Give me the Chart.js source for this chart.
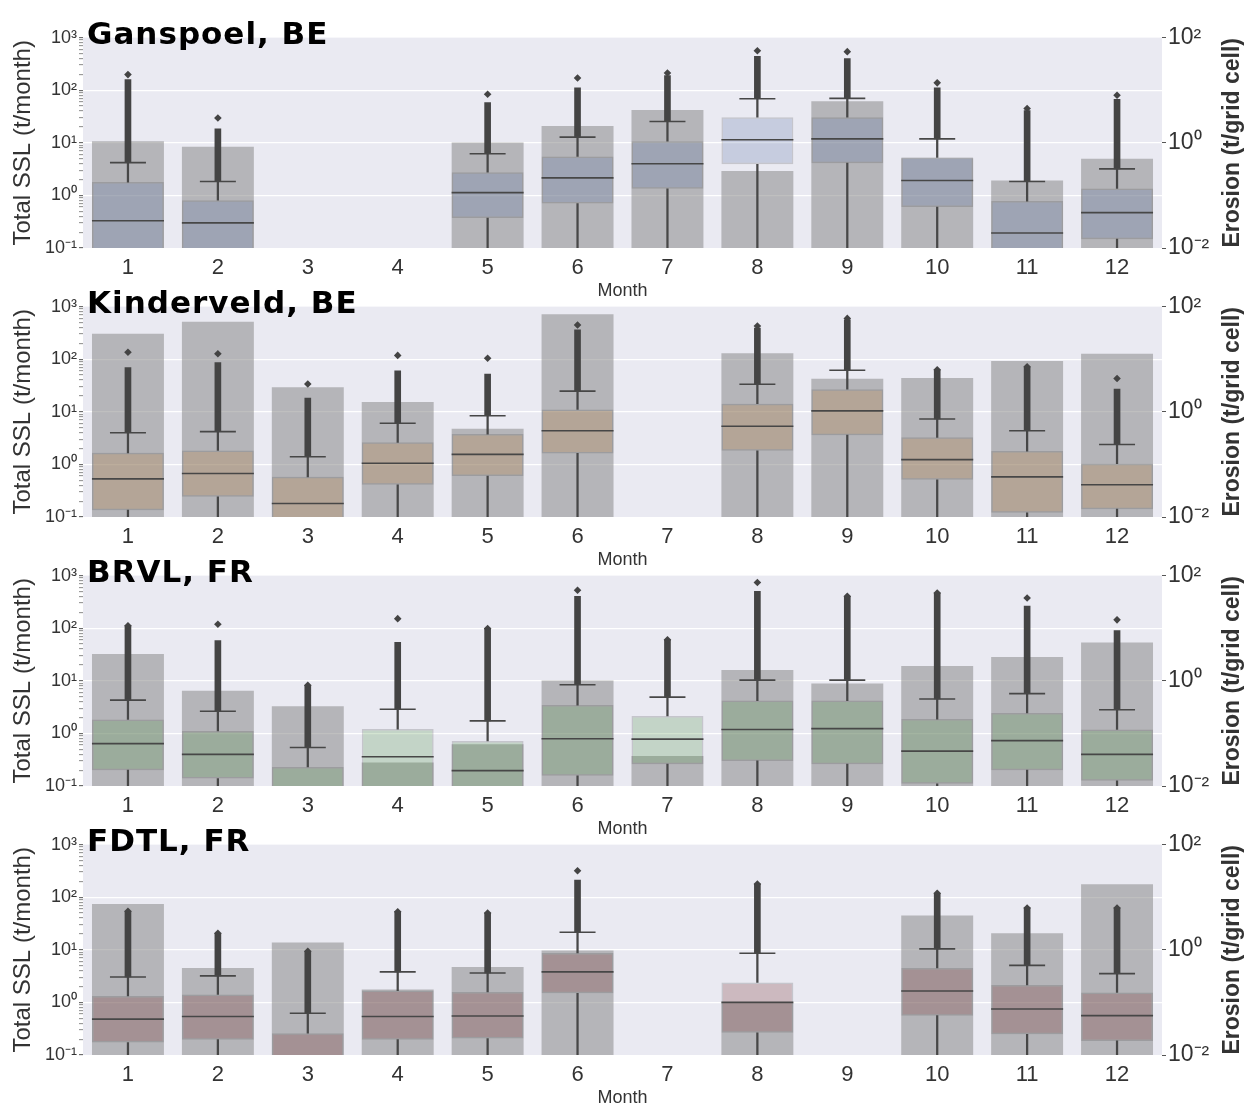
<!DOCTYPE html>
<html>
<head>
<meta charset="utf-8">
<script src="https://cdn.jsdelivr.net/npm/chart.js@4.4.1/dist/chart.umd.min.js"></script>
<style>
  html, body { margin: 0; padding: 0; background: #ffffff; }
  #wrap { position: relative; width: 1245px; height: 1106px; overflow: hidden; background: #ffffff; }
  .panel { position: absolute; left: 0; width: 1245px; height: 300px; }
</style>
</head>
<body>
<div id="wrap">
  <div class="panel" style="top:0px"><canvas id="c0"></canvas></div>
  <div class="panel" style="top:269px"><canvas id="c1"></canvas></div>
  <div class="panel" style="top:538px"><canvas id="c2"></canvas></div>
  <div class="panel" style="top:807px"><canvas id="c3"></canvas></div>
</div>
<script>
// Months on the x axis
const months = ['1', '2', '3', '4', '5', '6', '7', '8', '9', '10', '11', '12'];

// Catchments, one panel each (top to bottom)
const sites = ['Ganspoel, BE', 'Kinderveld, BE', 'BRVL, FR', 'FDTL, FR'];

// Total suspended sediment load per month (t/month), left axis
const totalSSL = [
  [10.7, 8.4, null, null, 10.1, 20.8, 42, 2.9, 61.8, 5.1, 1.92, 4.96],
  [304, 517, 29.3, 15.4, 4.75, 719, null, 130, 42.6, 43.7, 92.5, 127],
  [32.4, 6.5, 3.27, 0.28, 0.62, 10.1, 0.37, 16.1, 8.9, 19.1, 28.5, 53.6],
  [74, 4.5, 13.8, 1.75, 4.7, 9.7, null, 0.98, null, 44.8, 20.6, 176]
];

// Erosion per grid cell (t/grid cell), right axis: box statistics per month
const erosionQ1 = [
  [0.0085, 0.0078, null, null, 0.037, 0.070, 0.134, 0.39, 0.41, 0.060, 0.0042, 0.0147],
  [0.0135, 0.0243, 0.0062, 0.041, 0.060, 0.162, null, 0.181, 0.36, 0.051, 0.012, 0.0141],
  [0.020, 0.0139, 0.0031, 0.0072, 0.0058, 0.0156, 0.026, 0.030, 0.026, 0.011, 0.020, 0.0126],
  [0.0172, 0.0196, 0.0028, 0.0196, 0.0205, 0.149, null, 0.0265, null, 0.056, 0.0247, 0.0185]
];
const erosionMedian = [
  [0.033, 0.030, null, null, 0.113, 0.215, 0.40, 1.14, 1.19, 0.192, 0.0193, 0.047],
  [0.053, 0.067, 0.018, 0.105, 0.155, 0.436, null, 0.53, 1.04, 0.123, 0.058, 0.041],
  [0.064, 0.040, 0.0075, 0.036, 0.0196, 0.079, 0.078, 0.119, 0.123, 0.046, 0.073, 0.040],
  [0.048, 0.054, 0.0072, 0.054, 0.055, 0.38, null, 0.100, null, 0.165, 0.075, 0.056]
];
const erosionQ3 = [
  [0.179, 0.081, null, null, 0.275, 0.55, 1.07, 3.06, 3.06, 0.53, 0.078, 0.136],
  [0.166, 0.184, 0.058, 0.263, 0.377, 1.11, null, 1.43, 2.69, 0.327, 0.179, 0.103],
  [0.184, 0.111, 0.023, 0.121, 0.072, 0.345, 0.215, 0.42, 0.42, 0.187, 0.245, 0.119],
  [0.133, 0.142, 0.026, 0.168, 0.158, 0.87, null, 0.239, null, 0.45, 0.214, 0.155]
];
const whiskerLow = [
  [0.0009, 0.0011, null, null, 0.0016, 0.0021, 0.0034, 0.0052, 0.0047, 0.0018, 0.0006, 0.0012],
  [0.0013, 0.0019, 0.0007, 0.0024, 0.0031, 0.0045, null, 0.0038, 0.0061, 0.0022, 0.0010, 0.0009],
  [0.0012, 0.0010, 0.0004, 0.0006, 0.0005, 0.0011, 0.0017, 0.0020, 0.0019, 0.0008, 0.0013, 0.0009],
  [0.0014, 0.0016, 0.0005, 0.0015, 0.0017, 0.0062, null, 0.0021, null, 0.0033, 0.0018, 0.0014]
];
const whiskerHigh = [
  [0.42, 0.184, null, null, 0.62, 1.28, 2.54, 6.9, 7.0, 1.19, 0.184, 0.32],
  [0.40, 0.42, 0.140, 0.605, 0.84, 2.47, null, 3.34, 6.18, 0.73, 0.436, 0.239],
  [0.43, 0.263, 0.054, 0.287, 0.173, 0.84, 0.49, 1.03, 1.03, 0.45, 0.57, 0.282],
  [0.305, 0.319, 0.062, 0.38, 0.363, 2.15, null, 0.86, null, 1.04, 0.506, 0.352]
];
// Upper end of the dense run of outliers, and the single largest value
const outlierBulkTop = [
  [15.9, 1.85, null, null, 5.8, 11.1, 19, 44, 40, 11.1, 4.1, 6.7],
  [6.9, 8.6, 1.83, 6.0, 5.2, 36, null, 39, 56, 6.2, 7.0, 2.7],
  [11.1, 5.8, 0.82, 5.4, 9.9, 40.5, 6.0, 50, 40.5, 46.7, 26.3, 9.0],
  [5.4, 2.06, 0.94, 5.3, 5.0, 21.2, null, 17.8, null, 11.9, 6.25, 6.25]
];
const outlierMax = [
  [19.8, 2.97, null, null, 8.35, 17.1, 21.2, 56.4, 54.1, 13.8, 4.5, 8.0],
  [13.6, 12.7, 3.38, 11.8, 10.4, 44.8, null, 42.8, 59.7, 6.28, 7.2, 4.3],
  [11.1, 11.9, 0.82, 15.2, 9.9, 52.5, 6.0, 74, 40.5, 46.7, 37.6, 14.4],
  [5.4, 2.06, 0.94, 5.3, 5.0, 31.8, null, 17.8, null, 11.9, 6.25, 6.25]
];

// Axis ticks
const sslTicks = [0.1, 1, 10, 100, 1000];
const erosionTicks = [0.01, 1, 100];

// Styling
const FONT = '"Liberation Sans", Arial, Helvetica, sans-serif';
const TEXT = '#333333';
const PLOT_BG = '#EAEAF2';
const SSL_FILL = 'rgba(128,128,128,0.5)';
const LINE = '#474747';
const FLIER = '#444444';
const boxFill = [
  'rgba(90,114,168,0.25)',
  'rgba(181,121,53,0.25)',
  'rgba(78,148,70,0.25)',
  'rgba(115,38,40,0.25)'
];

Chart.defaults.font.family = FONT;
Chart.defaults.color = TEXT;

const SUP = { '-': '\u207B', '0': '\u2070', '1': '\u00B9', '2': '\u00B2', '3': '\u00B3' };
function isDecade(v) {
  const e = Math.round(Math.log10(v));
  return Math.abs(v - Math.pow(10, e)) < 1e-9 * v;
}
function decadeLabel(v) {
  if (!isDecade(v)) return '';
  const e = String(Math.round(Math.log10(v)));
  return '10' + e.split('').map(ch => SUP[ch]).join('');
}
// every 1..9 x 10^n between the left-axis limits, for the small tick marks
function minorTicks(lo, hi) {
  const out = [];
  for (let e = Math.round(Math.log10(lo)); e < Math.round(Math.log10(hi)); e++) {
    for (let m = 1; m < 10; m++) out.push(+(m * Math.pow(10, e)).toPrecision(6));
  }
  out.push(hi);
  return out;
}
function pairs(a, b) {
  return months.map((_, k) => (a[k] == null || b[k] == null) ? null : [a[k], b[k]]);
}

// Plot background, panel name and right-hand axis title
const panelDecor = {
  id: 'panelDecor',
  beforeDraw(chart) {
    const { ctx, chartArea: a } = chart;
    ctx.save();
    ctx.fillStyle = PLOT_BG;
    ctx.fillRect(a.left, a.top, a.right - a.left, a.bottom - a.top);
    ctx.restore();
  },
  afterDraw(chart, args, opts) {
    const { ctx, chartArea: a } = chart;
    ctx.save();
    ctx.font = 'bold 31px "DejaVu Sans", Verdana, sans-serif';
    if ('letterSpacing' in ctx) ctx.letterSpacing = '1px';
    ctx.fillStyle = '#000000';
    ctx.textAlign = 'left';
    ctx.textBaseline = 'alphabetic';
    ctx.fillText(opts.site, a.left + 4, a.top + 6.5);
    ctx.restore();

    const r = chart.scales.y2;
    ctx.save();
    ctx.font = 'bold 23px ' + FONT;
    ctx.fillStyle = TEXT;
    ctx.translate(r.right - 12, (a.top + a.bottom) / 2);
    ctx.rotate(-Math.PI / 2);
    ctx.textAlign = 'center';
    ctx.textBaseline = 'middle';
    ctx.fillText(opts.rightTitle, 0, 0);
    ctx.restore();
  }
};

function makePanel(i) {
  const common = { yAxisID: 'y2', grouped: false };
  new Chart(document.getElementById('c' + i), {
    type: 'bar',
    plugins: [panelDecor],
    data: {
      labels: months,
      datasets: [
        { label: 'Total SSL', data: totalSSL[i], yAxisID: 'y', grouped: false,
          backgroundColor: SSL_FILL, barPercentage: 0.8, categoryPercentage: 1, order: 7 },
        { label: 'Erosion IQR', data: pairs(erosionQ1[i], erosionQ3[i]), ...common,
          backgroundColor: boxFill[i], borderColor: 'rgba(70,70,70,0.22)', borderWidth: 1.5,
          borderSkipped: false, barPercentage: 0.8, categoryPercentage: 1, order: 6 },
        { label: 'Lower whisker', data: pairs(whiskerLow[i], erosionQ1[i]), ...common,
          backgroundColor: LINE, barThickness: 1.6, order: 5 },
        { label: 'Upper whisker', data: pairs(erosionQ3[i], whiskerHigh[i]), ...common,
          backgroundColor: LINE, barThickness: 1.6, order: 5 },
        { label: 'Outliers', data: pairs(whiskerHigh[i], outlierBulkTop[i]), ...common,
          backgroundColor: FLIER, barThickness: 6, order: 4 },
        { type: 'line', label: 'Maximum', data: outlierMax[i], yAxisID: 'y2', showLine: false,
          pointStyle: 'rectRot', pointRadius: 3.8, pointBackgroundColor: FLIER,
          pointBorderColor: FLIER, pointBorderWidth: 0, order: 3 },
        { type: 'line', label: 'Whisker cap', data: whiskerHigh[i], yAxisID: 'y2', showLine: false,
          pointStyle: 'line', pointRadius: 18, pointBorderColor: LINE, pointBorderWidth: 1.6, order: 2 },
        { type: 'line', label: 'Median', data: erosionMedian[i], yAxisID: 'y2', showLine: false,
          pointStyle: 'line', pointRadius: 36, pointBorderColor: LINE, pointBorderWidth: 1.6, order: 1 }
      ]
    },
    options: {
      responsive: true,
      maintainAspectRatio: false,
      animation: false,
      events: [],
      layout: { padding: { top: 34, left: 0, right: 0, bottom: 0 } },
      plugins: {
        legend: { display: false },
        tooltip: { enabled: false },
        panelDecor: { site: sites[i], rightTitle: 'Erosion (t/grid cell)' }
      },
      scales: {
        x: {
          type: 'category',
          grid: { display: false, drawTicks: false },
          border: { display: false },
          ticks: { font: { size: 22 }, color: TEXT, padding: 7, maxRotation: 0, autoSkip: false },
          title: { display: true, text: 'Month', color: TEXT,
                   font: { size: 18, lineHeight: 1 }, padding: { top: 0, bottom: 0 } },
          afterFit(s) { s.height = 52; }
        },
        y: {
          type: 'logarithmic',
          position: 'left',
          min: sslTicks[0],
          max: sslTicks[sslTicks.length - 1],
          afterBuildTicks(s) {
            s.ticks = minorTicks(sslTicks[0], sslTicks[sslTicks.length - 1]).map(v => ({ value: v, major: isDecade(v) }));
          },
          ticks: { autoSkip: false, font: { size: 18 }, color: TEXT, padding: 2,
                   callback: v => decadeLabel(v) },
          grid: {
            color: c => (c.tick && isDecade(c.tick.value) && c.tick.value > sslTicks[0] && c.tick.value < sslTicks[sslTicks.length - 1]) ? '#ffffff' : 'rgba(0,0,0,0)',
            lineWidth: 1.3,
            drawTicks: true,
            tickLength: 4,
            tickWidth: 1,
            tickColor: c => (c.tick && isDecade(c.tick.value)) ? '#555555' : '#8a8a8a'
          },
          border: { display: false },
          title: { display: true, text: 'Total SSL (t/month)', color: TEXT,
                   font: { size: 24 }, padding: { top: 9, bottom: 0 } },
          afterFit(s) { s.width = 83; }
        },
        y2: {
          type: 'logarithmic',
          position: 'right',
          min: erosionTicks[0],
          max: erosionTicks[erosionTicks.length - 1],
          afterBuildTicks(s) {
            s.ticks = erosionTicks.map(v => ({ value: v, major: true }));
          },
          ticks: { autoSkip: false, font: { size: 23 }, color: TEXT, padding: 2,
                   callback: v => decadeLabel(v) },
          grid: { drawOnChartArea: false, drawTicks: true, tickLength: 4, tickColor: '#555555' },
          border: { display: false },
          title: { display: false },
          afterFit(s) { s.width = 83; }
        }
      }
    }
  });
}

for (let i = 0; i < sites.length; i++) makePanel(i);
</script>
</body>
</html>
